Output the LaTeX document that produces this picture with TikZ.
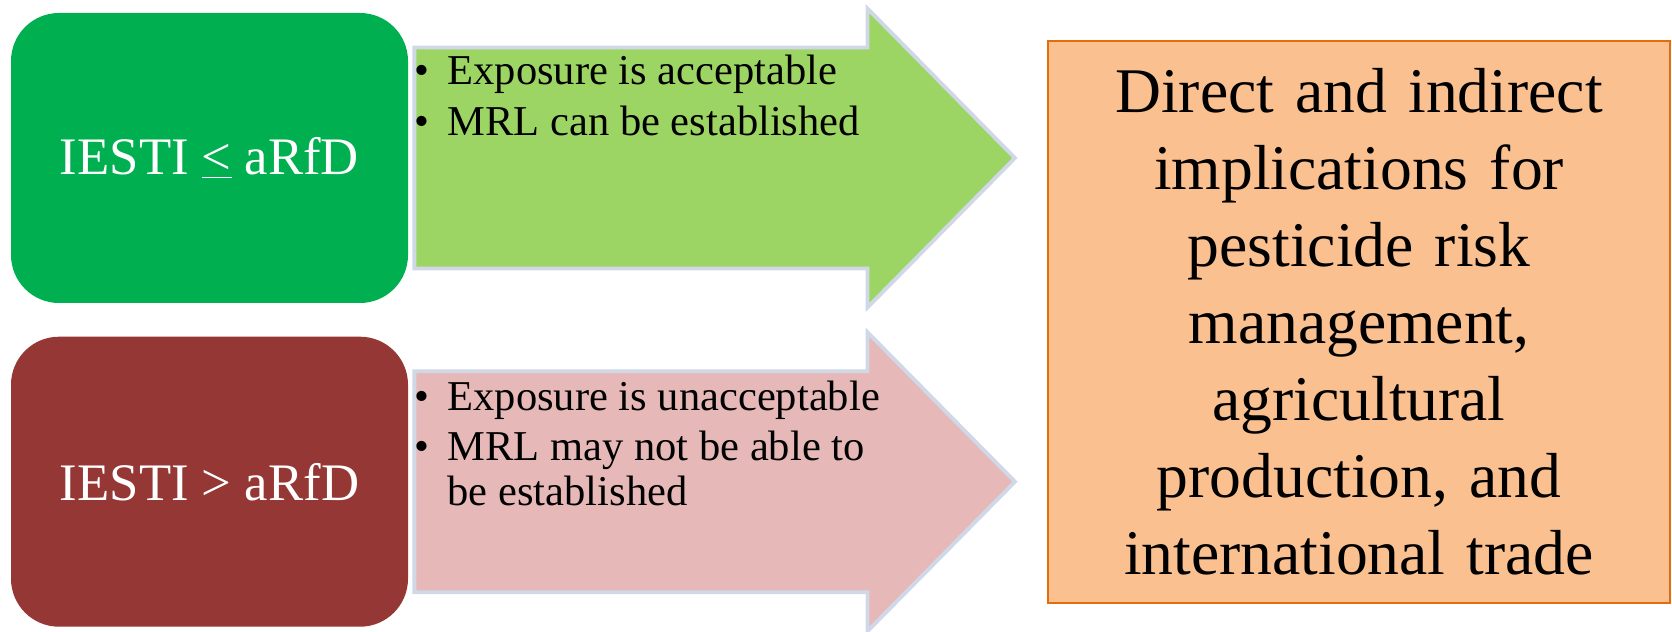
\documentclass[tikz,border=0pt]{standalone}
\usepackage{fontspec}
\setmainfont{Liberation Serif}
\usetikzlibrary{calc,positioning}

\definecolor{okgreen}{RGB}{0,176,80}
\definecolor{okarrow}{RGB}{157,213,100}
\definecolor{badred}{RGB}{149,55,53}
\definecolor{badarrow}{RGB}{230,185,184}
\definecolor{arrowedge}{RGB}{208,216,232}
\definecolor{implfill}{RGB}{250,192,144}
\definecolor{impledge}{RGB}{228,108,10}

% bullet in front of a line
\newcommand{\bpoint}{\makebox[0.66cm][l]{\textbullet}}

% fat arrow: tail, tip, fill colour
\newcommand{\blockarrow}[3]{%
  \draw[arrowedge, line width=2.2pt, fill=#3, line join=miter]
    ($(#1)+(0.12,2.21)$) -- ($(#2)+(-2.95,2.21)$) -- ($(#2)+(-2.95,2.99)$) -- (#2)
    -- ($(#2)+(-2.95,-2.99)$) -- ($(#2)+(-2.95,-2.21)$) -- ($(#1)+(0.12,-2.21)$) -- cycle;}

\begin{document}
\begin{tikzpicture}[
    condbox/.style={rounded corners=0.96cm, minimum width=7.94cm, minimum height=5.8cm,
      text=white, font=\fontsize{30}{36}\selectfont},
    pts/.style={anchor=north west, inner sep=0pt, font=\fontsize{24.2}{25.9}\selectfont},
    implbox/.style={draw=impledge, line width=1.2pt, fill=implfill, minimum width=12.44cm,
      minimum height=11.24cm, text width=11.6cm, align=center,
      font=\fontsize{36.2}{43.8}\selectfont}]
  \useasboundingbox (0,0) rectangle (33.44,12.64);

  \node[implbox] (impl) at (27.18,6.2) {Direct and indirect\\ implications for\\ pesticide risk\\
    management,\\ agricultural\\ production, and\\ international trade};

  \node[condbox] (green) at (4.19,9.48) {};
  \node[condbox, below=0.66cm of green] (red) {};

  \blockarrow{green.east}{$(green.east -| impl.west)+(-0.64,0)$}{okarrow}
  \blockarrow{red.east}{$(red.east -| impl.west)+(-0.64,0)$}{badarrow}

  \node[condbox, fill=okgreen] at (green) {IESTI \underline{<} aRfD};
  \node[condbox, fill=badred] at (red) {IESTI > aRfD};

  \node[pts] (okpts) at ($(green.north east)+(0.12,-0.79)$) {%
    \begin{tabular}{@{}l@{}}
      \bpoint Exposure is acceptable\\[0.11cm]
      \bpoint MRL can be established
    \end{tabular}};
  \node[pts] (badpts) at ($(red.north east)+(0.12,-0.83)$) {%
    \begin{tabular}{@{}l@{}}
      \bpoint Exposure is unacceptable\\[0.09cm]
      \bpoint MRL may not be able to\\
      \hspace{0.66cm}be established
    \end{tabular}};
\end{tikzpicture}
\end{document}
